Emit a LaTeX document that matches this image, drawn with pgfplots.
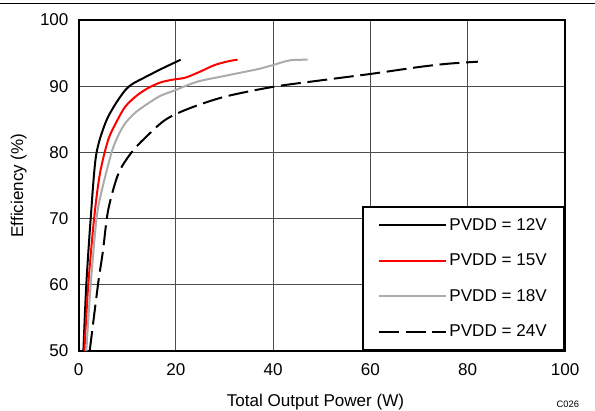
\documentclass[border=0pt]{standalone}
\usepackage{pgfplots}
\pgfplotsset{compat=1.18}
\usepackage{fontspec}
\setmainfont{Liberation Sans}
\begin{document}
\begin{tikzpicture}
\useasboundingbox (-58.9pt,-45pt) rectangle (387.4pt,263.25pt);
\draw[line width=0.6pt] (-58.9pt,261pt) -- (387.4pt,261pt);
\begin{axis}[
  at={(0,0)}, anchor=south west,
  scale only axis, width=364.9pt, height=248.25pt,
  xmin=0, xmax=100, ymin=50, ymax=100,
  xtick={0,20,...,100}, ytick={50,60,...,100},
  major tick length=0pt,
  grid=major,
  major grid style={black!70, line width=0.5pt},
  axis line style={line width=1.5pt},
  font=\fontsize{12.8}{15}\selectfont,
  /pgf/number format/assume math mode=true,
  xticklabel style={yshift=-6pt},
  yticklabel style={xshift=-4pt},
  xlabel={Total Output Power (W)},
  ylabel={Efficiency (\%)},
  xlabel style={at={(axis description cs:0.487,-0.154)}, anchor=center},
  ylabel style={at={(axis description cs:-0.123,0.5)}, anchor=center},
  legend style={at={(1,0)}, anchor=south east, draw=black, line width=1.5pt,
    font=\fontsize{12.8}{15}\selectfont, row sep=12.25pt,
    inner xsep=11pt, inner ysep=6.5pt, cells={anchor=west}},
  legend image code/.code={\draw[#1] (0pt,0pt) -- (50pt,0pt);},
]
\addplot[black, line width=1.5pt, smooth, tension=0.5] coordinates {
(1.0,50)(1.6,60)(2.5,70)(3.6,79.5)(5.5,84.4)(7.5,87.2)(9.6,89.4)(11,90.3)(13,91.1)(17,92.6)(21,94)};
\addlegendentry{PVDD = 12V}
\addplot[red, line width=1.5pt, smooth, tension=0.5] coordinates {
(1.2,50)(2.0,60)(3.2,70)(4.4,76.8)(6.1,81.9)(7.8,84.6)(9.6,86.9)(12,88.6)(14.5,89.8)(17,90.6)(19.5,91)(22,91.3)(25,92.2)(28,93.2)(31,93.8)(32.7,94)};
\addlegendentry{PVDD = 15V}
\addplot[black!33, line width=1.5pt, smooth, tension=0.5] coordinates {
(1.6,50)(2.5,60)(3.7,70)(4.8,74.3)(6.8,80)(8.2,82.6)(9.6,84.4)(11.5,85.9)(13.7,87.1)(16.7,88.5)(19.9,89.4)(22.2,90.1)(25,90.8)(29,91.4)(33,92)(37,92.6)(40,93.2)(43.4,93.9)(47.1,94)};
\addlegendentry{PVDD = 18V}
\addplot[black, line width=1.5pt, dash pattern=on 15pt off 5pt, smooth, tension=0.5] coordinates {
(2.3,50)(4.0,60)(5.0,65)(6.1,71.3)(8.2,76.8)(10.9,80)(13.7,82.2)(17.8,84.9)(22.6,86.6)(30,88.4)(40,89.9)(50,90.9)(60.5,91.9)(70,92.9)(76,93.4)(82.1,93.7)};
\addlegendentry{PVDD = 24V}
\end{axis}
\node[font=\fontsize{7}{8}\selectfont] at (367pt,-39.75pt) {C026};
\end{tikzpicture}
\end{document}
